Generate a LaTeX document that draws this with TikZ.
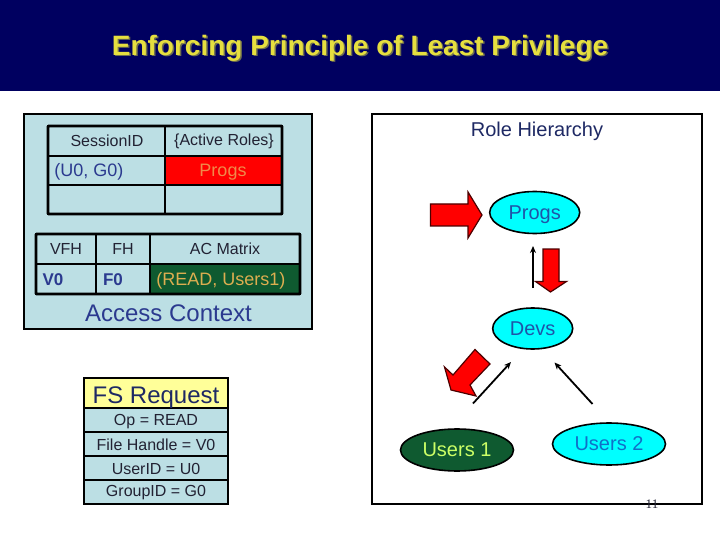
\documentclass[tikz,border=0pt]{standalone}
\usepackage{fontspec}
\setmainfont{Liberation Sans}
\newfontfamily\pagenofont{Liberation Serif}
\usetikzlibrary{shapes.geometric,arrows.meta}
\definecolor{navy}{HTML}{000060}
\definecolor{titleyellow}{HTML}{E6DF3F}
\definecolor{titleshadow}{HTML}{70704F}
\definecolor{paleblue}{HTML}{BCDFE4}
\definecolor{inkblue}{HTML}{2B3A8F}
\definecolor{dullink}{HTML}{222233}
\definecolor{deepgreen}{HTML}{0F5A30}
\definecolor{skyink}{HTML}{1F55A8}
\definecolor{paleyellow}{HTML}{FFFF99}
\definecolor{aqua}{HTML}{00FFFF}
\definecolor{pureRed}{HTML}{FF0000}
\definecolor{peach}{HTML}{F08A4A}
\definecolor{ochre}{HTML}{DDAE50}
\definecolor{limeink}{HTML}{CCFF66}
\definecolor{usersink}{HTML}{1070C8}
\newcommand{\fsz}[1]{\fontsize{#1}{#1}\selectfont}
\tikzset{
  x=1pt,y=-1pt,
  cell/.style={draw=black,line width=1.6pt,inner sep=0pt,outer sep=0pt,anchor=north west,text=dullink,font=\fsz{16}},
  pale/.style={cell,fill=paleblue},
  label text/.style={inner sep=0pt,font=\fsz{16}},
  strong text/.style={inner sep=0pt,font=\fsz{18}},
  heavy/.style={draw=black,line width=2.6pt,rounded corners=0.6pt},
  role/.style={ellipse,draw=black,line width=1.6pt,fill=aqua,text=skyink,font=\fsz{20},inner sep=0pt,outer sep=0pt},
  bigred/.style={fill=pureRed,draw=black!70!pureRed,line width=1.2pt,line join=miter},
  link/.style={draw=black,line width=1.8pt,-{Stealth[length=7pt,width=6pt]}},
}
\begin{document}
\begin{tikzpicture}
\useasboundingbox (0,0) rectangle (720,540);
\fill[white] (0,0) rectangle (720,540);
\fill[navy] (0,0) rectangle (720,91);
\node[inner sep=0pt,text=titleshadow,font=\bfseries\fsz{28}] (titleshade) at (361.5,49.5) {Enforcing Principle of Least Privilege};
\node[inner sep=0pt,text=titleyellow,font=\bfseries\fsz{28}] (title) at (360,48) {Enforcing Principle of Least Privilege};

% Access context
\node[draw=black,line width=1.6pt,fill=paleblue,inner sep=0pt,outer sep=0pt,minimum width=288,minimum height=215,anchor=north west] (ctx) at (24,114) {};
\node[pale,minimum width=117,minimum height=30] (sid) at (48,126) {};
\node[pale,minimum width=117,minimum height=30] (roles) at (165,126) {};
\node[pale,minimum width=117,minimum height=29] (ug) at (48,156) {};
\node[pale,fill=pureRed,minimum width=117,minimum height=29] (progcell) at (165,156) {};
\node[pale,minimum width=117,minimum height=29] (e1) at (48,185) {};
\node[pale,minimum width=117,minimum height=29] (e2) at (165,185) {};
\draw[heavy] (48,126) rectangle (282,214);
\node[label text,text=dullink] at (107,140.5) {SessionID};
\node[label text,text=dullink] at (224,141) {\{Active Roles\}};
\node[strong text,text=inkblue] at (89,172) {(U0, G0)};
\node[strong text,text=peach] at (223,172) {Progs};

\node[pale,minimum width=60,minimum height=30] (vfh) at (36,234) {};
\node[pale,minimum width=54,minimum height=30] (fh) at (96,234) {};
\node[pale,minimum width=150,minimum height=30] (acm) at (150,234) {};
\node[pale,minimum width=60,minimum height=30] (v0) at (36,264) {};
\node[pale,minimum width=54,minimum height=30] (f0) at (96,264) {};
\node[pale,fill=deepgreen,minimum width=150,minimum height=30] (rd) at (150,264) {};
\draw[heavy] (36,234) rectangle (300,294);
\node[label text,text=dullink] at (66,249) {VFH};
\node[label text,text=dullink] at (123,249) {FH};
\node[label text,text=dullink] at (225,249) {AC Matrix};
\node[inner sep=0pt,text=inkblue,font=\bfseries\fsz{17}] at (53,280) {V0};
\node[inner sep=0pt,text=inkblue,font=\bfseries\fsz{17}] at (113,280) {F0};
\node[strong text,text=ochre] at (221,280.5) {(READ, Users1)};
\node[inner sep=0pt,text=inkblue,font=\fsz{24}] (ctxlabel) at (168.5,313) {Access Context};

% FS request
\node[cell,fill=paleyellow,minimum width=144,minimum height=30] (fshead) at (84,378) {};
\node[pale,minimum width=144,minimum height=24] (op) at (84,408) {};
\node[pale,minimum width=144,minimum height=24] (fhand) at (84,432) {};
\node[pale,minimum width=144,minimum height=24] (uid) at (84,456) {};
\node[pale,minimum width=144,minimum height=24] (gid) at (84,480) {};
\node[inner sep=0pt,text=inkblue!70!black,font=\fsz{24}] at (156,398) {FS Request};
\node[label text,text=dullink] at (156,421.5) {Op = READ};
\node[label text,text=dullink] at (156,444.5) {File Handle = V0};
\node[label text,text=dullink] at (156,468.5) {UserID = U0};
\node[label text,text=dullink] at (156,493) {GroupID = G0};

% Role hierarchy
\node[draw=black,line width=1.8pt,inner sep=0pt,outer sep=0pt,minimum width=330,minimum height=390,anchor=north west] (rolebox) at (372,114) {};
\node[inner sep=0pt,text=inkblue!70!black,font=\fsz{20}] (rh) at (537,131) {Role Hierarchy};
\node[role,text depth=0pt,minimum width=90,minimum height=42] (progs) at (534.7,212.5) {Progs};
\node[role,minimum width=80,minimum height=41] (devs) at (532.7,328.5) {Devs};
\node[role,fill=deepgreen,text=limeink,minimum width=113,minimum height=42] (usersa) at (457,450) {Users 1};
\node[role,text=usersink,minimum width=113,minimum height=42] (usersb) at (609,444) {Users 2};

\draw[bigred] (430.5,204) -- (468,204) -- (468,192) -- (482,215) -- (468,238) -- (468,226) -- (430.5,226) -- cycle;
\draw[bigred] (543,249) -- (559,249) -- (559,281.5) -- (566.5,281.5) -- (550.5,292) -- (535.5,281.5) -- (543,281.5) -- cycle;
\draw[bigred] (475,349.5) -- (490,364) -- (470,385) -- (476,396) -- (451,390) -- (444.5,367) -- (453,375) -- cycle;

\coordinate (upfrom) at (533,288);
\coordinate (upto) at (533,246);
\coordinate (afrom) at (473,403.5);
\coordinate (ato) at (511,362);
\coordinate (bfrom) at (592.5,404);
\coordinate (bto) at (554.5,362.5);
\draw[link] (upfrom) -- (upto);
\draw[link] (afrom) -- (ato);
\draw[link] (bfrom) -- (bto);

\node[inner sep=0pt,font=\pagenofont\fsz{13},text=dullink] (pageno) at (652,504) {11};
\end{tikzpicture}
\end{document}
